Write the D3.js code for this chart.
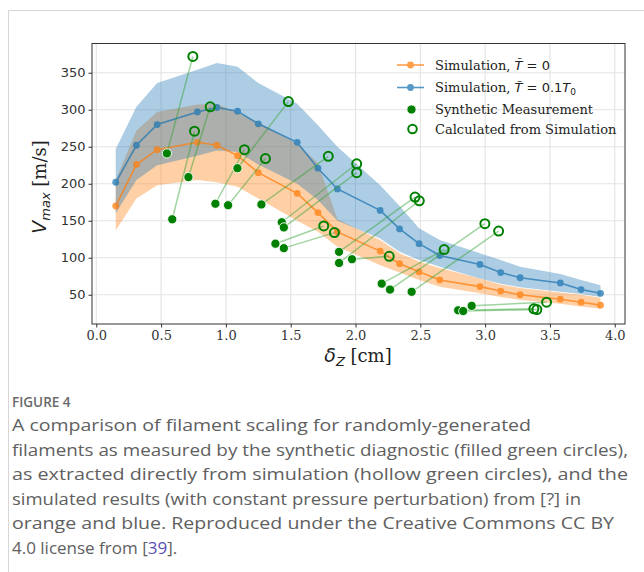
<!DOCTYPE html>
<html><head><meta charset="utf-8">
<script src="https://cdn.jsdelivr.net/npm/d3@7"></script>
<style>body{margin:0;background:#fff}svg{display:block}</style>
</head><body>
<svg id="c" width="644" height="572"></svg>
<script>
// ---- data ----
const deltaZ      = [0.15,0.31,0.47,0.78,0.93,1.09,1.25,1.55,1.71,1.86,2.19,2.34,2.49,2.65,2.96,3.12,3.27,3.58,3.74,3.89];
const simT0       = [170,226,246,256,252,238,215,187,161,135,109,92,81,70,61,55,50,44,40,36];
const simT0Upper  = [205,272,297,307,308,296,283,254,228,152,124,106,95,86,72,64,59,53,50,46];
const simT0Lower  = [137,180,198,205,202,196,180,150,135,115,90,80,70,61,52,47,43,38,34,31];
const simT01      = [202,252,280,297,303,298,281,256,221,193,164,139,119,103,91,80,73,66,57,52];
const simT01Upper = [247,304,336,354,363,358,336,308,279,250,198,170,140,124,106,97,88,78,70,63];
const simT01Lower = [160,205,225,238,245,243,226,200,178,150,126,108,97,88,72,65,60,54,51,47];
// synthetic measurement (filled) and calculated from simulation (hollow), paired
const measX = [0.545,0.711,0.586,0.919,1.017,1.089,1.274,1.431,1.447,1.382,1.447,1.873,1.873,1.973,2.202,2.266,2.433,2.792,2.831,2.896];
const measY = [241,209,152,173,171,221,172,148,141,119,113,108,93,98,65,57,54,29,28,35];
const calcX = [0.745,0.879,0.758,1.143,1.305,1.482,1.790,2.009,2.009,1.755,1.837,2.459,2.492,2.260,2.684,2.998,3.104,3.376,3.399,3.474];
const calcY = [372,304,271,246,234,311,237,227,215,143,134,182,177,102,111,146,136,31,30,40];
const xTicks = [0,0.5,1,1.5,2,2.5,3,3.5,4];
const yTicks = [50,100,150,200,250,300,350];
const captionLines = [
  "A comparison of filament scaling for randomly-generated",
  "filaments as measured by the synthetic diagnostic (filled green circles),",
  "as extracted directly from simulation (hollow green circles), and the",
  "simulated results (with constant pressure perturbation) from [?] in",
  "orange and blue. Reproduced under the Creative Commons CC BY"
];

// ---- chart ----
const svg = d3.select('#c');
const ORANGE = '#ff7f0e', BLUE = '#1f77b4', GREEN = '#008000';
const L = 92, R = 625, T = 43.5, B = 324;
const x = d3.scaleLinear().domain([-0.033, 4.079]).range([L, R]);
const y = d3.scaleLinear().domain([10.5, 389.5]).range([B, T]);

// page border
svg.append('path').attr('d', 'M8.5,572V10.5H644').attr('fill','none').attr('stroke','#d6d6d6').attr('stroke-width',1);

// grid
const grid = svg.append('g').attr('stroke','#e3e3e3').attr('stroke-width',1.1);
xTicks.forEach(t => grid.append('line').attr('x1',x(t)).attr('x2',x(t)).attr('y1',T).attr('y2',B));
yTicks.forEach(t => grid.append('line').attr('x1',L).attr('x2',R).attr('y1',y(t)).attr('y2',y(t)));

const idx = d3.range(deltaZ.length);
const band = (lo, hi) => d3.area().x(i => x(deltaZ[i])).y0(i => y(lo[i])).y1(i => y(hi[i]))(idx);
svg.append('path').attr('d', band(simT0Lower, simT0Upper)).attr('fill', ORANGE).attr('fill-opacity', 0.37);
svg.append('path').attr('d', band(simT01Lower, simT01Upper)).attr('fill', BLUE).attr('fill-opacity', 0.37);

function series(vals, color) {
  const g = svg.append('g').attr('opacity', 0.75);
  g.append('path').attr('d', d3.line().x(i => x(deltaZ[i])).y(i => y(vals[i]))(idx))
    .attr('fill','none').attr('stroke', color).attr('stroke-width', 1.6);
  g.selectAll('circle').data(idx).join('circle')
    .attr('cx', i => x(deltaZ[i])).attr('cy', i => y(vals[i])).attr('r', 3.4).attr('fill', color);
}
series(simT0, ORANGE);
series(simT01, BLUE);

// connecting lines
const pidx = d3.range(measX.length);
svg.append('g').selectAll('line').data(pidx).join('line')
  .attr('x1', i => x(measX[i])).attr('y1', i => y(measY[i]))
  .attr('x2', i => x(calcX[i])).attr('y2', i => y(calcY[i]))
  .attr('stroke', '#2ca02c').attr('stroke-opacity', 0.45).attr('stroke-width', 1.5);
svg.append('g').selectAll('circle').data(pidx).join('circle')
  .attr('cx', i => x(measX[i])).attr('cy', i => y(measY[i])).attr('r', 4.6)
  .attr('fill', GREEN).attr('stroke', '#fff').attr('stroke-width', 0.9);
svg.append('g').selectAll('circle').data(pidx).join('circle')
  .attr('cx', i => x(calcX[i])).attr('cy', i => y(calcY[i])).attr('r', 4.5)
  .attr('fill', 'none').attr('stroke', GREEN).attr('stroke-width', 2);

// frame
svg.append('rect').attr('x', L).attr('y', T).attr('width', R - L).attr('height', B - T)
  .attr('fill','none').attr('stroke','#333').attr('stroke-width',1);

// axes
const xa = svg.append('g').attr('transform', `translate(0,${B})`)
  .call(d3.axisBottom(x).tickValues(xTicks).tickFormat(d3.format('.1f')).tickSize(3.5).tickPadding(3));
xa.select('.domain').remove();
xa.selectAll('text').attr('font-family','DejaVu Serif').attr('font-size', 13).attr('fill','#333');
xa.selectAll('line').attr('stroke','#333');
const ya = svg.append('g').attr('transform', `translate(${L},0)`)
  .call(d3.axisLeft(y).tickValues(yTicks).tickSize(3.5).tickPadding(3));
ya.select('.domain').remove();
ya.selectAll('text').attr('font-family','DejaVu Sans').attr('font-size', 13).attr('fill','#333');
ya.selectAll('line').attr('stroke','#333');

// axis labels
const yl = svg.append('text').attr('transform','translate(46,187) rotate(-90)').attr('text-anchor','middle').attr('fill','#222');
yl.append('tspan').attr('font-family','DejaVu Sans').attr('font-style','italic').attr('font-size',19).text('V');
yl.append('tspan').attr('font-family','DejaVu Sans').attr('font-style','italic').attr('font-size',13).attr('dy',4).text('max');
yl.append('tspan').attr('font-family','DejaVu Serif').attr('font-size',18).attr('dy',-4).text('\u00a0[m/s]');

const xl = svg.append('text').attr('x', 358).attr('y', 362).attr('text-anchor','middle').attr('fill','#222');
xl.append('tspan').attr('font-family','DejaVu Sans').attr('font-style','italic').attr('font-size',19).text('δ');
xl.append('tspan').attr('font-family','DejaVu Sans').attr('font-style','italic').attr('font-size',13).attr('dy',4).text('Z');
xl.append('tspan').attr('font-family','DejaVu Serif').attr('font-size',18).attr('dy',-4).text('\u00a0[cm]');

// legend
const lg = svg.append('g');
const lx0 = 397, lx1 = 424, lmx = 410.5, ltx = 435;
const rows = [69.5, 92, 114, 133.5];
[[ORANGE, 0],[BLUE, 1]].forEach(([c, r]) => {
  const g = lg.append('g').attr('opacity', 0.75);
  g.append('line').attr('x1', lx0).attr('x2', lx1).attr('y1', rows[r]-4.5).attr('y2', rows[r]-4.5).attr('stroke', c).attr('stroke-width',1.6);
  g.append('circle').attr('cx', lmx).attr('cy', rows[r]-4.5).attr('r', 3.4).attr('fill', c);
});
lg.append('circle').attr('cx', lmx+1).attr('cy', rows[2]-4.5).attr('r', 4.6).attr('fill', GREEN).attr('stroke','#fff').attr('stroke-width',0.9);
lg.append('circle').attr('cx', lmx+2).attr('cy', rows[3]-4.5).attr('r', 4.3).attr('fill','none').attr('stroke', GREEN).attr('stroke-width',2);
function legText(row) { return lg.append('text').attr('x', ltx).attr('y', rows[row]).attr('font-size', 13).attr('fill','#222').attr('font-family','DejaVu Serif'); }
let t = legText(0);
t.append('tspan').text('Simulation, ');
t.append('tspan').attr('font-family','DejaVu Sans').attr('font-style','italic').text('T\u0303');
t.append('tspan').attr('font-family','DejaVu Sans').text(' = 0');
t = legText(1);
t.append('tspan').text('Simulation, ');
t.append('tspan').attr('font-family','DejaVu Sans').attr('font-style','italic').text('T\u0303');
t.append('tspan').attr('font-family','DejaVu Sans').text(' = 0.1');
t.append('tspan').attr('font-family','DejaVu Sans').attr('font-style','italic').text('T');
t.append('tspan').attr('font-family','DejaVu Sans').attr('font-size', 9).attr('dy', 3).text('0');
legText(2).text('Synthetic Measurement');
legText(3).text('Calculated from Simulation');

// caption
const cap = svg.append('g').attr('font-family','Open Sans').attr('fill','#606060');
cap.append('text').attr('x', 12).attr('y', 407).attr('font-size', 13.5).attr('font-weight', 600).attr('fill','#6a6a6a').text('FIGURE 4');
const capW = [519, 616, 616, 569, 602];
captionLines.forEach((s, i) => {
  cap.append('text').attr('x', 12).attr('y', 431 + i * 24.6).attr('font-size', 17)
    .attr('textLength', capW[i]).attr('lengthAdjust', 'spacingAndGlyphs').text(s);
});
const last = cap.append('text').attr('x', 12).attr('y', 431 + 5 * 24.6).attr('font-size', 17);
last.append('tspan').text('4.0 license from [');
last.append('tspan').attr('fill', '#5a4fb8').text('39');
last.append('tspan').text('].');
</script>
</body></html>
